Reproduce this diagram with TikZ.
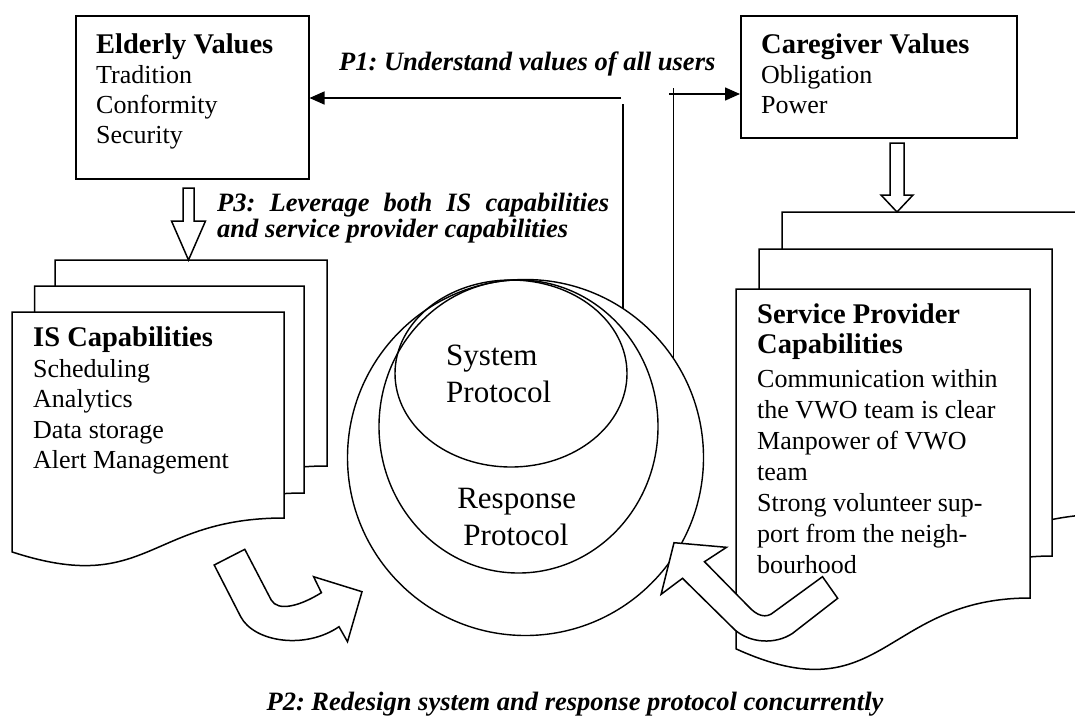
\documentclass[tikz,border=0pt]{standalone}
\usepackage{fontspec}
\setmainfont{Liberation Serif}
\newfontfamily\circfont{Liberation Serif}
\usetikzlibrary{shapes.geometric,arrows.meta,calc}
\frenchspacing

\tikzset{
  box/.style={draw, line width=1.5pt, rectangle, inner sep=0pt, anchor=north west},
  txt/.style={anchor=base west, inner sep=0pt, font=\fontsize{26}{30}\selectfont},
  hdr/.style={anchor=base west, inner sep=0pt, font=\fontsize{28.5}{30}\selectfont\bfseries},
  lbl/.style={anchor=base west, inner sep=0pt, font=\fontsize{26.5}{30}\selectfont\bfseries\itshape},
  ctxt/.style={inner sep=0pt, font=\circfont\fontsize{31}{37}\selectfont},
  ring/.style={draw, line width=1.4pt, inner sep=0pt},
  doc/.style={draw, fill=white, line width=1.5pt, line join=miter},
  barrow/.style={draw, fill=white, line width=1.5pt, line join=miter},
  conn/.style={line width=1.5pt},
  tiphead/.style={-{Triangle[length=15pt,width=13pt]}}
}

\newcommand\mydoc[4]{%
  \pgfmathsetmacro\docH{(#4-#2)/0.802}%
  \pgfmathsetmacro\docMx{(#1+#3)/2}%
  \pgfmathsetmacro\docCy{#2+1.1075*\docH}%
  \pgfmathsetmacro\docLy{#2+0.934*\docH}%
  \draw[doc] (#1,#2) -- (#3,#2) -- (#3,#4) .. controls (\docMx,#4) and (\docMx,\docCy) .. (#1,\docLy) -- cycle;%
}

\begin{document}
\begin{tikzpicture}[x=1pt,y=-1pt]
\path[use as bounding box, fill=white] (0,0) rectangle (1075,718);

% value boxes
\node[box, minimum width=233pt, minimum height=163pt] (elderly) at (75,15) {};
\node[box, minimum width=276pt, minimum height=122pt] (care) at (740,15) {};

% IS capability documents
\mydoc{55}{260}{327}{466}
\mydoc{34.5}{286}{304}{493}
\mydoc{12}{312}{284}{518}

% service provider documents
\mydoc{782}{212}{1110}{514}
\mydoc{759}{249}{1052}{556}
\mydoc{736}{289}{1030}{598}

% protocol circles
\node[ring, circle, minimum size=356pt] (outer) at (525.5,457.5) {};
\node[ring, ellipse, minimum width=279pt, minimum height=293pt] (resp) at (518.5,426.5) {};
\node[ring, ellipse, minimum width=232pt, minimum height=187pt] (sys) at (511,373.5) {};

% P1 connectors
\coordinate (k1) at (621.7,104);
\coordinate (h1) at (621.2,98);
\draw[conn] (outer.57.3) -- (outer.57.3 |- k1);
\draw[conn,tiphead] (h1) -- (h1 -| elderly.east);
\coordinate (k2) at (672,88);
\coordinate (h2) at (669,94);
\draw[conn] (outer.34.6) -- (outer.34.6 |- k2);
\draw[conn,tiphead] (h2) -- (h2 -| care.west);

% block arrows down
\draw[barrow] (183,188) -- (194,188) -- (194,221) -- (205.5,221) -- (188.5,260) -- (171.5,221) -- (183,221) -- cycle;
\draw[barrow] (890,143) -- (904,143) -- (904,195) -- (913,195) -- (897,212) -- (881,195) -- (890,195) -- cycle;

% curved block arrows
\draw[barrow] (214.2,565) -- (240.7,616.7) .. controls (254,642) and (305,650) .. (339,626.7) -- (347.5,641.7) -- (362,591.7) -- (313.6,576.7) -- (321.4,592.7) .. controls (300,606) and (278,612) .. (271.2,600) -- (244.8,549.3) -- cycle;
\draw[barrow] (822.5,576.7) -- (837.7,598.3) -- (792.6,633.3) .. controls (775,645) and (750,643) .. (735,630) -- (682.5,578.3) -- (661.1,594.3) -- (674,542.7) -- (726.5,547.3) -- (704.5,561.7) -- (748,606) .. controls (757,616) and (766,619) .. (774,612) -- cycle;

% texts: elderly
\node[hdr] (evh) at (96,53) {Elderly Values};
\foreach \t [count=\i from 0] in {Tradition,Conformity,Security}
  \node[txt] (ev\i) at (96,{83+30*\i}) {\t};

% caregiver
\node[hdr] (cvh) at (761,53) {Caregiver Values};
\foreach \t [count=\i from 0] in {Obligation,Power}
  \node[txt] (cv\i) at (761,{83+30*\i}) {\t};

% IS capabilities
\node[hdr] (ish) at (33,346) {IS Capabilities};
\foreach \t [count=\i from 0] in {Scheduling,Analytics,Data storage,Alert Management}
  \node[txt] (is\i) at (33,{377+30.5*\i}) {\t};

% service provider
\node[hdr] (sph1) at (757,323) {Service Provider};
\node[hdr] (sph2) at (757,353) {Capabilities};
\foreach \t [count=\i from 0] in {Communication within,the VWO team is clear,Manpower of VWO,team,Strong volunteer sup-,port from the neigh-,bourhood}
  \node[txt] (sp\i) at (757,{387.5+31*\i}) {\t};

% circle texts
\node[ctxt, anchor=base west] (sys1) at (446,365) {System};
\node[ctxt, anchor=base west] (sys2) at (446,402) {Protocol};
\node[ctxt, anchor=base] (res1) at (516.7,508) {Response};
\node[ctxt, anchor=base] (res2) at (516,545) {Protocol};

% labels
\node[lbl] (p1) at (339,70) {P1: Understand values of all users};
\node[lbl] (p3a) at (217,211) {\makebox[392pt][s]{P3: Leverage both IS capabilities}};
\node[lbl] (p3b) at (217,237) {and service provider capabilities};
\node[lbl, anchor=base] (p2) at (575,710) {P2: Redesign system and response protocol concurrently};
\end{tikzpicture}
\end{document}
